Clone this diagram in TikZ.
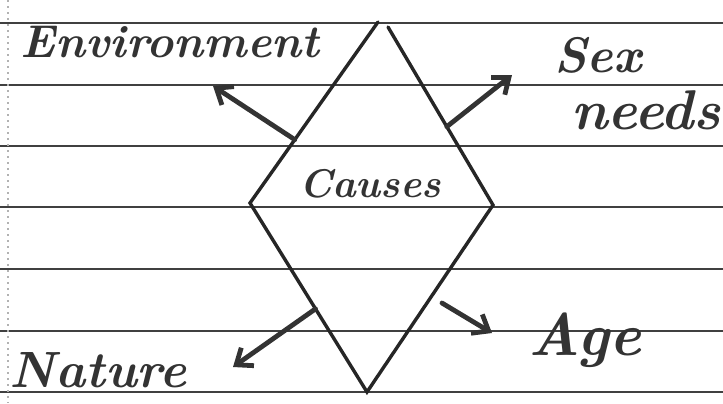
\documentclass[tikz,border=0pt]{standalone}
\usepackage{tikz}
\usetikzlibrary{arrows.meta,positioning,calc}

\begin{document}
\begin{tikzpicture}[
  x=0.5pt,y=-0.5pt,>={Straight Barb[length=7pt,width=11pt]},
  rule/.style={draw=black!75,line width=0.6pt},
  side/.style={draw=black!85,line width=1.7pt,line cap=round},
  cause/.style={->,draw=black!80,line width=2.4pt,line cap=round},
  hand/.style={font=\bfseries\itshape,text=black!80,inner sep=0pt}
]
\useasboundingbox (0,0) rectangle (723,403);
% ruled paper
\foreach \y in {23,85,146,207,269,331,392}
  \draw[rule] (0,\y) -- (723,\y);
\draw[black!30,dotted,line width=1pt] (8,0) -- (8,403);
% diamond
\coordinate (topL) at (378,22);
\coordinate (topR) at (388,27);
\coordinate (left) at (250,203);
\coordinate (right) at (493,205);
\coordinate (bottom) at (367,392);
\draw[side] (topL) -- (left) -- (bottom) -- (right) -- (topR);
\node[hand,font=\fontsize{20}{24}\bfseries\itshape] (causes) at (370,184) {Causes};
% labels
\node[hand,font=\fontsize{23}{26}\bfseries\itshape] (env) at (170,42) {Environment};
\node[hand,font=\fontsize{25}{28}\bfseries\itshape] (sex) at (598,55) {Sex};
\node[hand,font=\fontsize{28}{30}\bfseries\itshape] (needs) at (646,110) {needs};
\node[hand,font=\fontsize{25.5}{28}\bfseries\itshape] (nature) at (98,370) {Nature};
\node[hand,font=\fontsize{30}{32}\bfseries\itshape] (age) at (585,340) {Age};
% arrow ends
\coordinate (envTip) at (213,86);
\coordinate (sexTip) at (512,75);
\coordinate (natTip) at (233,367);
\coordinate (ageTail) at (442,303);
\coordinate (ageTip) at (492,333);
\draw[cause] ($(topL)!0.65!(left)$) -- (envTip);
\draw[cause] ($(topR)!0.56!(right)$) -- (sexTip);
\draw[cause] ($(left)!0.56!(bottom)$) -- (natTip);
\draw[cause] (ageTail) -- (ageTip);
\end{tikzpicture}
\end{document}
